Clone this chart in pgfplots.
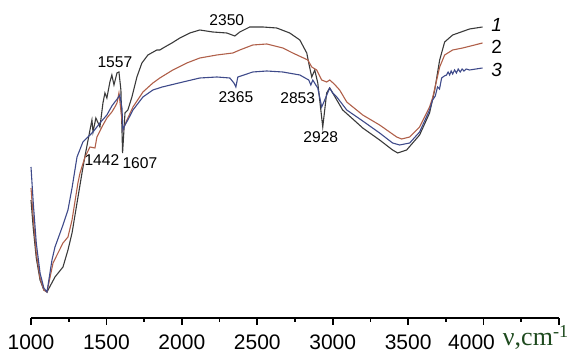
\documentclass[border=0pt]{standalone}
\usepackage{pgfplots}
\pgfplotsset{compat=1.18}
\usepackage{fontspec}
\setmainfont{Liberation Sans}
\newfontfamily\seriffont{Liberation Serif}
\definecolor{cblack}{HTML}{3A3A3A}
\definecolor{cred}{HTML}{B0604A}
\definecolor{cblue}{HTML}{3E4A8A}
\definecolor{cgreen}{HTML}{1E4A1E}
\begin{document}
\begin{tikzpicture}
\path[use as bounding box] (-15.5pt,-17pt) rectangle (270.5pt,159pt);
\begin{axis}[
  scale only axis, width=264pt, height=159pt,
  xmin=1000, xmax=4500, ymin=0, ymax=318,
  axis x line=bottom, axis y line=none,
  axis line style={-, black, line width=0.9pt},
  xtick={1000,1500,...,4500},
  xticklabels={1000,1500,2000,2500,3000,3500,4000\hspace*{12pt},},
  minor x tick num=1,
  tick align=outside,
  major tick length=3.5pt, minor tick length=1.8pt,
  tick style={black, line width=0.8pt},
  xticklabel style={font=\fontsize{10.5}{11}\selectfont, yshift=-1.3pt},
  clip=false,
  every axis plot/.append style={line width=0.55pt},
]
\addplot[cblack] coordinates {
(1000,118) (1015,90) (1035,60) (1060,38) (1085,28) (1106,26) (1159,41) (1212,51) (1245,68) (1272,85)
(1305,115) (1338,145) (1358,162) (1391,188) (1404,198) (1411,186) (1430,200) (1457,191) (1477,215)
(1490,225) (1503,220) (1523,236) (1536,243) (1550,233) (1570,245) (1583,246) (1596,228) (1607,165)
(1623,205) (1642,208) (1669,221) (1702,241) (1735,255) (1775,263) (1834,268) (1854,268) (1887,271)
(1934,275) (1987,280) (2053,285) (2119,288) (2205,286) (2298,285) (2351,282) (2384,286) (2450,291)
(2536,291) (2629,290) (2715,285) (2782,278) (2828,265) (2841,255) (2861,241) (2881,248) (2901,235)
(2934,191) (2960,225) (2980,230) (3000,225) (3027,218) (3066,208) (3133,199) (3199,190) (3311,178)
(3397,168) (3431,165) (3490,168) (3576,183) (3642,205) (3676,228) (3709,258) (3742,276) (3795,283)
(3907,289) (3993,291)
};
\addplot[cred] coordinates {
(1000,130) (1015,100) (1035,65) (1060,40) (1085,28) (1106,26) (1146,55) (1212,75) (1245,81) (1272,98)
(1311,135) (1325,145) (1358,161) (1391,171) (1424,170) (1437,181) (1470,191) (1503,200) (1536,206)
(1556,211) (1570,215) (1583,225) (1603,198) (1609,188) (1636,198) (1676,211) (1742,226) (1808,235)
(1854,240) (1940,248) (2033,255) (2119,260) (2232,263) (2338,265) (2384,268) (2470,273) (2563,274)
(2669,270) (2735,265) (2835,258) (2861,251) (2894,248) (2927,238) (2960,236) (2980,238) (3010,234)
(3046,228) (3093,216) (3199,203) (3311,193) (3424,181) (3457,179) (3510,181) (3576,191) (3642,211)
(3662,220) (3709,251) (3742,263) (3795,268) (3861,270) (3993,275)
};
\addplot[cblue] coordinates {
(1000,151) (1015,115) (1035,75) (1060,45) (1085,30) (1106,26) (1139,58) (1159,71) (1212,93) (1245,108)
(1272,130) (1305,161) (1344,176) (1391,183) (1411,186) (1457,195) (1503,203) (1536,212) (1576,220)
(1589,223) (1603,210) (1609,188) (1623,193) (1642,198) (1676,208) (1742,221) (1808,228) (1870,231)
(2007,236) (2119,240) (2232,241) (2318,240) (2345,235) (2358,231) (2371,241) (2470,246) (2563,247)
(2669,246) (2782,243) (2841,238) (2855,233) (2868,238) (2888,233) (2901,230) (2927,211) (2947,218)
(2980,230) (3000,225) (3027,221) (3093,208) (3199,197) (3311,185) (3397,175) (3444,173) (3510,175)
(3576,186) (3642,208) (3662,218) (3680,222) (3695,231) (3708,229) (3722,240) (3740,242) (3755,243)
(3765,246) (3775,243) (3785,247) (3795,244) (3808,248) (3820,245) (3832,249) (3845,246) (3858,249)
(3870,247) (3885,249) (3907,248) (3950,249) (3993,250)
};
\begin{scope}[every node/.style={font=\fontsize{7.8}{9}\selectfont, inner sep=0pt}]
\node at (axis cs:2298,298) {2350};
\node at (axis cs:1556,256) {1557};
\node at (axis cs:1470,158) {1442};
\node at (axis cs:1722,155) {1607};
\node at (axis cs:2358,221) {2365};
\node at (axis cs:2768,220) {2853};
\node at (axis cs:2921,181) {2928};
\end{scope}
\begin{scope}[every node/.style={font=\fontsize{9.5}{10}\selectfont, inner sep=0pt}]
\node at (axis cs:4086,293) {\itshape 1};
\node at (axis cs:4086,271) {2};
\node at (axis cs:4086,248) {\itshape 3};
\end{scope}
\node[font=\seriffont\fontsize{13}{14}\selectfont, text=cgreen, inner sep=0pt, anchor=base west] at (axis cs:4126,-28) {ν,cm\textsuperscript{-1}};
\end{axis}
\end{tikzpicture}
\end{document}
